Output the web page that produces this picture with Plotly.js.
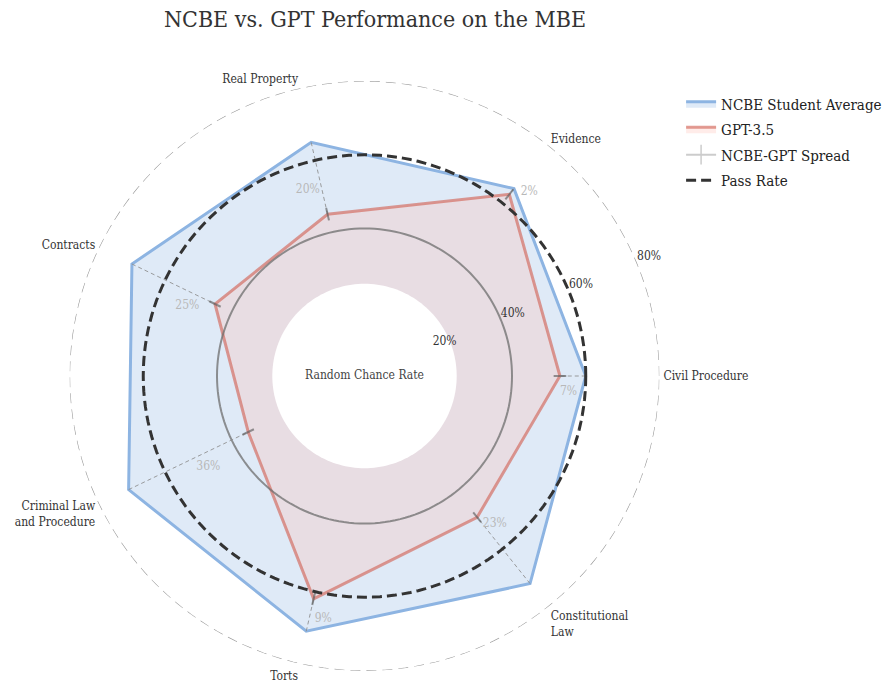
<!DOCTYPE html>
<html>
<head>
<meta charset="utf-8">
<script src="https://cdn.plot.ly/plotly-3.0.1.min.js"></script>
<style>html,body{margin:0;padding:0;background:#fff;}</style>
</head>
<body>
<div id="chart" style="width:895px;height:683px;"></div>
<script>
// ---- data ----
const categories = ['Civil Procedure', 'Evidence', 'Real Property', 'Contracts',
  'Criminal Law<br>and Procedure', 'Torts', 'Constitutional<br>Law'];
const ncbeAverage = [0.60, 0.65, 0.65, 0.70, 0.71, 0.71, 0.72];
const gpt35 = [0.53, 0.63, 0.45, 0.45, 0.35, 0.62, 0.49];
const passRate = 0.60;
const randomChanceRate = 0.25;
const innerReference = 0.40;
const outerReference = 0.80;
const radialTicks = [0.2, 0.4, 0.6, 0.8];

// ---- build ----
const FONT = '"DejaVu Serif Condensed", "DejaVu Serif", serif';
const RADIAL_ANGLE = 22.5;
const n = categories.length;
const angles = categories.map((c, i) => i * 360 / n);
const closeLoop = a => a.concat([a[0]]);
const circleTheta = [];
for (let t = 0; t <= 360; t += 2) circleTheta.push(t);
const circle = v => circleTheta.map(() => v);

const traces = [];
traces.push({
  type: 'scatterpolar', name: 'NCBE Student Average', legendgroup: 'a',
  r: closeLoop(ncbeAverage), theta: closeLoop(angles),
  mode: 'lines', fill: 'toself', fillcolor: 'rgba(141,180,226,0.28)',
  line: {color: 'rgb(141,180,226)', width: 3}, legendrank: 1, hoverinfo: 'skip'
});
traces.push({
  type: 'scatterpolar', name: 'GPT-3.5', legendgroup: 'b',
  r: closeLoop(gpt35), theta: closeLoop(angles),
  mode: 'lines', fill: 'toself', fillcolor: 'rgba(255,185,175,0.28)',
  line: {color: 'rgba(210,100,88,0.64)', width: 3}, legendrank: 2, hoverinfo: 'skip'
});
// random chance hole
traces.push({
  type: 'scatterpolar', r: circle(randomChanceRate), theta: circleTheta,
  mode: 'lines', fill: 'toself', fillcolor: '#ffffff',
  line: {width: 0, color: '#ffffff'}, showlegend: false, hoverinfo: 'skip'
});
traces.push({
  type: 'scatterpolar', r: [0], theta: [0], mode: 'text',
  text: ['Random Chance Rate'], textfont: {family: FONT, size: 12, color: '#444'},
  showlegend: false, hoverinfo: 'skip'
});
// 40% reference ring
traces.push({
  type: 'scatterpolar', r: circle(innerReference), theta: circleTheta,
  mode: 'lines', line: {color: 'rgba(110,110,110,0.75)', width: 2},
  showlegend: false, hoverinfo: 'skip'
});
// outer dashed ring
traces.push({
  type: 'scatterpolar', r: circle(outerReference), theta: circleTheta,
  mode: 'lines', line: {color: '#9a9a9a', width: 1.2, dash: '10px,6px'},
  showlegend: false, hoverinfo: 'skip', cliponaxis: false
});
// spread lines
for (let i = 0; i < n; i++) {
  traces.push({
    type: 'scatterpolar', r: [ncbeAverage[i], gpt35[i]], theta: [angles[i], angles[i]],
    mode: 'lines+markers',
    line: {color: 'rgba(140,140,140,0.85)', width: 1, dash: '4px,3px'},
    marker: {symbol: 'line-ns', size: [0, 9], angleref: 'previous',
             line: {color: 'rgba(90,90,90,0.9)', width: 2}},
    showlegend: false, hoverinfo: 'skip'
  });
}
// spread legend entry
traces.push({
  type: 'scatterpolar', name: 'NCBE-GPT Spread', legendgroup: 'c', r: [null], theta: [null],
  mode: 'lines+markers', line: {color: '#cccccc', width: 2},
  marker: {symbol: 'line-ns', size: 14, line: {color: '#cccccc', width: 1.5}},
  legendrank: 3, hoverinfo: 'skip'
});
// spread labels
traces.push({
  type: 'scatterpolar', mode: 'markers+text',
  r: gpt35.map((g, i) => g + (ncbeAverage[i] - g) / 3), theta: angles,
  text: ncbeAverage.map((v, i) => Math.round((v - gpt35[i]) * 100) + '%'),
  textposition: ['bottom center', 'middle right', 'middle left', 'bottom center',
                 'bottom center', 'bottom right', 'top center'],
  marker: {size: [14, 14, 2, 14, 14, 4, 14], opacity: 0, line: {width: 0}},
  textfont: {family: FONT, size: 12, color: '#b8b8b8'},
  showlegend: false, hoverinfo: 'skip'
});
// pass rate
traces.push({
  type: 'scatterpolar', name: 'Pass Rate', legendgroup: 'd', r: circle(passRate), theta: circleTheta,
  mode: 'lines', line: {color: '#333333', width: 3, dash: '10px,5px'},
  legendrank: 4, hoverinfo: 'skip'
});
// radial tick labels
traces.push({
  type: 'scatterpolar', mode: 'text', r: radialTicks,
  theta: radialTicks.map(() => RADIAL_ANGLE),
  text: radialTicks.map(v => Math.round(v * 100) + '%'),
  textposition: 'top right', cliponaxis: false,
  textfont: {family: FONT, size: 12, color: '#333'},
  showlegend: false, hoverinfo: 'skip'
});

const layout = {
  width: 895, height: 683,
  margin: {l: 0, r: 0, t: 0, b: 0},
  paper_bgcolor: '#fff',
  font: {family: FONT, color: '#333', size: 12},
  title: {text: 'NCBE vs. GPT Performance on the MBE', x: 0.419, xanchor: 'center',
          y: 0.972, yanchor: 'middle',
          font: {family: FONT, size: 23, color: '#333'}},
  showlegend: true,
  legend: {x: 0.761, y: 0.872, xanchor: 'left', yanchor: 'top', traceorder: 'grouped',
           tracegroupgap: 3,
           font: {family: FONT, size: 15, color: '#222'}, bgcolor: 'rgba(0,0,0,0)'},
  polar: {
    domain: {x: [69.5 / 895, 659.5 / 895], y: [12 / 683, 602 / 683]},
    bgcolor: 'rgba(0,0,0,0)',
    radialaxis: {range: [0, outerReference], tickvals: radialTicks,
                 showticklabels: false,
                 showline: false, showgrid: false, ticks: '', angle: RADIAL_ANGLE},
    angularaxis: {type: 'linear', thetaunit: 'degrees', rotation: 0,
                  direction: 'counterclockwise', tickmode: 'array',
                  tickvals: angles, ticktext: categories,
                  showgrid: false, showline: false,
                  ticks: 'outside', ticklen: 1, tickcolor: 'rgba(0,0,0,0)',
                  tickfont: {family: FONT, size: 12, color: '#333'}}
  }
};
Plotly.newPlot('chart', traces, layout, {displayModeBar: false});
</script>
</body>
</html>
